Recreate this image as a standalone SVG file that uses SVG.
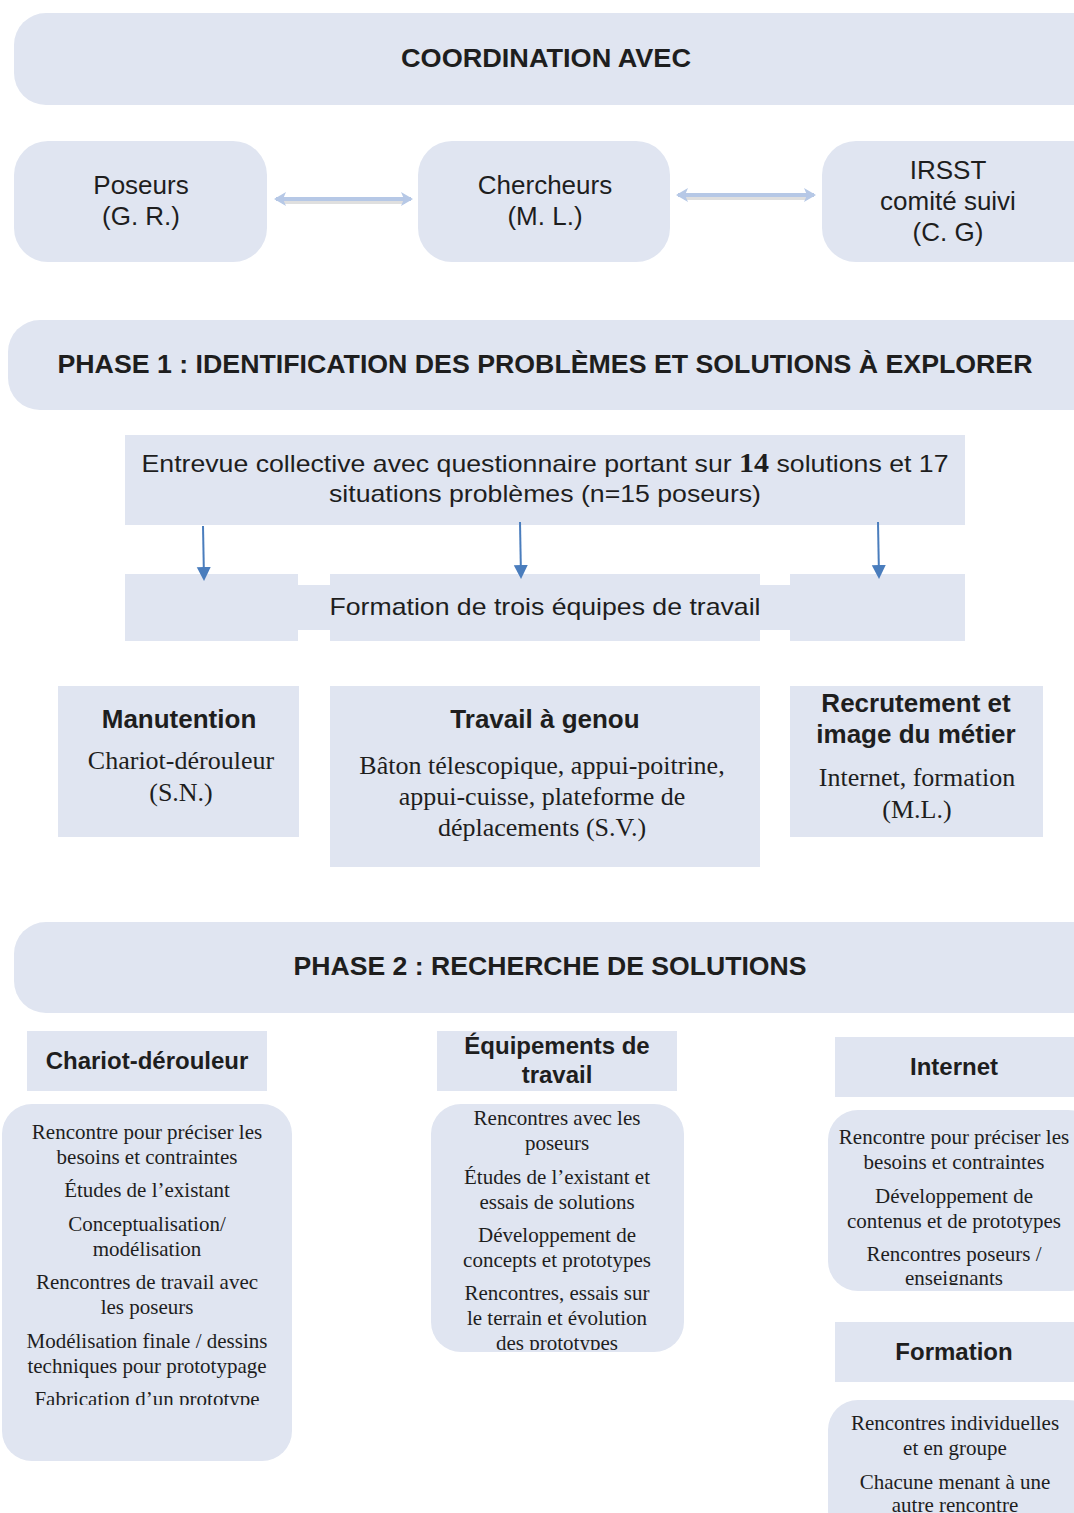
<svg xmlns="http://www.w3.org/2000/svg" width="1074" height="1513" viewBox="0 0 1074 1513">
<style>
.box{fill:#e0e5f1}
.sans{font-family:"Liberation Sans",Arial,sans-serif;fill:#1e1e1e;text-anchor:middle}
.b{font-weight:bold}
.serif{font-family:"Liberation Serif","Times New Roman",serif;fill:#1e1e1e;text-anchor:middle}
.l{font-size:21px}
.dbl{stroke:#b6c8e6;stroke-width:4;fill:none}
.shadow{stroke:#c9c9c9;stroke-width:4;fill:none;opacity:0.6}
.blue{stroke:#4a7dbd;stroke-width:2;fill:none}
</style>
<defs>
<marker id="hd" markerWidth="12" markerHeight="14" refX="10" refY="7" orient="auto-start-reverse" markerUnits="userSpaceOnUse">
<path d="M0,0 L12,7 L0,14 L3,7 Z" fill="#b6c8e6"/>
</marker>
<marker id="hb" markerWidth="14" markerHeight="16" refX="12" refY="7" orient="auto" markerUnits="userSpaceOnUse">
<path d="M0,0 L14,7 L0,14 Z" fill="#4a7dbd"/>
</marker>
<clipPath id="c1"><rect x="0" y="1100" width="300" height="305"/></clipPath>
<clipPath id="c2"><rect x="420" y="1100" width="280" height="250"/></clipPath>
<clipPath id="c3"><rect x="820" y="1100" width="254" height="185"/></clipPath>
<clipPath id="c4"><rect x="820" y="1395" width="254" height="118"/></clipPath>
</defs>

<g id="coordination">
<rect class="box" x="14" y="13" width="1090" height="92" rx="32"/>
<text class="sans b" x="546" y="67" font-size="25" textLength="290" lengthAdjust="spacingAndGlyphs">COORDINATION AVEC</text>
</g>

<g id="poseurs">
<rect class="box" x="14" y="141" width="253" height="121" rx="34"/>
<text class="sans" x="141" y="194" font-size="26">Poseurs</text>
<text class="sans" x="141" y="225" font-size="26">(G. R.)</text>
</g>
<g id="chercheurs">
<rect class="box" x="418" y="141" width="252" height="121" rx="34"/>
<text class="sans" x="545" y="194" font-size="26">Chercheurs</text>
<text class="sans" x="545" y="225" font-size="26">(M. L.)</text>
</g>
<g id="irsst">
<rect class="box" x="822" y="141" width="290" height="121" rx="34"/>
<text class="sans" x="948" y="179" font-size="26">IRSST</text>
<text class="sans" x="948" y="210" font-size="26">comité suivi</text>
<text class="sans" x="948" y="241" font-size="26">(C. G)</text>
</g>

<g id="phase1">
<rect class="box" x="8" y="320" width="1100" height="90" rx="32"/>
<text class="sans b" x="545" y="373" font-size="25" textLength="975" lengthAdjust="spacingAndGlyphs">PHASE 1 : IDENTIFICATION DES PROBLÈMES ET SOLUTIONS À EXPLORER</text>
</g>

<g id="entrevue">
<rect class="box" x="125" y="435" width="840" height="90"/>
<text class="sans" x="545" y="472" font-size="24" textLength="807" lengthAdjust="spacingAndGlyphs">Entrevue collective avec questionnaire portant sur <tspan font-family="Liberation Serif, serif" font-weight="bold" font-size="27">14</tspan> solutions et 17</text>
<text class="sans" x="545" y="502" font-size="24" textLength="432" lengthAdjust="spacingAndGlyphs">situations problèmes (n=15 poseurs)</text>
</g>

<g id="formation-equipes">
<rect class="box" x="125" y="585" width="840" height="45"/>
<rect class="box" x="125" y="574" width="173" height="67"/>
<rect class="box" x="330" y="574" width="430" height="67"/>
<rect class="box" x="790" y="574" width="175" height="67"/>
<text class="sans" x="545" y="615" font-size="24" textLength="431" lengthAdjust="spacingAndGlyphs">Formation de trois équipes de travail</text>
</g>

<g id="manutention">
<rect class="box" x="58" y="686" width="241" height="151"/>
<text class="sans b" x="179" y="728" font-size="26">Manutention</text>
<text class="serif" x="181" y="769" font-size="26">Chariot-dérouleur</text>
<text class="serif" x="181" y="801" font-size="26">(S.N.)</text>
</g>
<g id="travail-genou">
<rect class="box" x="330" y="686" width="430" height="181"/>
<text class="sans b" x="545" y="728" font-size="26">Travail à genou</text>
<text class="serif" x="542" y="774" font-size="26">Bâton télescopique, appui-poitrine,</text>
<text class="serif" x="542" y="805" font-size="26">appui-cuisse, plateforme de</text>
<text class="serif" x="542" y="836" font-size="26">déplacements (S.V.)</text>
</g>
<g id="recrutement">
<rect class="box" x="790" y="686" width="253" height="151"/>
<text class="sans b" x="916" y="712" font-size="26">Recrutement et</text>
<text class="sans b" x="916" y="743" font-size="26">image du métier</text>
<text class="serif" x="917" y="786" font-size="26">Internet, formation</text>
<text class="serif" x="917" y="818" font-size="26">(M.L.)</text>
</g>

<g id="phase2">
<rect class="box" x="14" y="922" width="1100" height="91" rx="32"/>
<text class="sans b" x="550" y="975" font-size="25" textLength="513" lengthAdjust="spacingAndGlyphs">PHASE 2 : RECHERCHE DE SOLUTIONS</text>
</g>

<g id="chariot-header">
<rect class="box" x="27" y="1031" width="240" height="60"/>
<text class="sans b" x="147" y="1069" font-size="24">Chariot-dérouleur</text>
</g>
<g id="chariot-list">
<rect class="box" x="2" y="1104" width="290" height="357" rx="30"/>
<g clip-path="url(#c1)" class="serif l">
<text x="147" y="1139">Rencontre pour préciser les</text>
<text x="147" y="1164">besoins et contraintes</text>
<text x="147" y="1197">Études de l’existant</text>
<text x="147" y="1231">Conceptualisation/</text>
<text x="147" y="1256">modélisation</text>
<text x="147" y="1289">Rencontres de travail avec</text>
<text x="147" y="1314">les poseurs</text>
<text x="147" y="1348">Modélisation finale / dessins</text>
<text x="147" y="1373">techniques pour prototypage</text>
<text x="147" y="1406">Fabrication d’un prototype</text>
</g>
</g>

<g id="equipements-header">
<rect class="box" x="437" y="1031" width="240" height="60"/>
<text class="sans b" x="557" y="1054" font-size="24">Équipements de</text>
<text class="sans b" x="557" y="1083" font-size="24">travail</text>
</g>
<g id="equipements-list">
<rect class="box" x="431" y="1104" width="253" height="248" rx="30"/>
<g clip-path="url(#c2)" class="serif l">
<text x="557" y="1125">Rencontres avec les</text>
<text x="557" y="1150">poseurs</text>
<text x="557" y="1184">Études de l’existant et</text>
<text x="557" y="1209">essais de solutions</text>
<text x="557" y="1242">Développement de</text>
<text x="557" y="1267">concepts et prototypes</text>
<text x="557" y="1300">Rencontres, essais sur</text>
<text x="557" y="1325">le terrain et évolution</text>
<text x="557" y="1350">des prototypes</text>
</g>
</g>

<g id="internet-header">
<rect class="box" x="835" y="1037" width="250" height="60"/>
<text class="sans b" x="954" y="1075" font-size="24">Internet</text>
</g>
<g id="internet-list">
<rect class="box" x="828" y="1110" width="270" height="181" rx="30"/>
<g clip-path="url(#c3)" class="serif l">
<text x="954" y="1144">Rencontre pour préciser les</text>
<text x="954" y="1169">besoins et contraintes</text>
<text x="954" y="1203">Développement de</text>
<text x="954" y="1228">contenus et de prototypes</text>
<text x="954" y="1261">Rencontres poseurs /</text>
<text x="954" y="1285">enseignants</text>
</g>
</g>

<g id="formation-header">
<rect class="box" x="835" y="1322" width="250" height="60"/>
<text class="sans b" x="954" y="1360" font-size="24">Formation</text>
</g>
<g id="formation-list">
<rect class="box" x="828" y="1400" width="270" height="140" rx="30"/>
<g clip-path="url(#c4)" class="serif l">
<text x="955" y="1430">Rencontres individuelles</text>
<text x="955" y="1455">et en groupe</text>
<text x="955" y="1489">Chacune menant à une</text>
<text x="955" y="1512">autre rencontre</text>
</g>
</g>

<g id="connectors">
<line class="shadow" x1="282" y1="202" x2="405" y2="202"/>
<line class="shadow" x1="684" y1="198" x2="808" y2="198"/>
<line class="dbl" x1="276" y1="199" x2="411" y2="199" marker-start="url(#hd)" marker-end="url(#hd)"/>
<line class="dbl" x1="678" y1="195" x2="814" y2="195" marker-start="url(#hd)" marker-end="url(#hd)"/>
<line class="blue" x1="203" y1="526" x2="204" y2="579" marker-end="url(#hb)"/>
<line class="blue" x1="520" y1="522" x2="521" y2="577" marker-end="url(#hb)"/>
<line class="blue" x1="878" y1="522" x2="879" y2="577" marker-end="url(#hb)"/>
</g>
</svg>
